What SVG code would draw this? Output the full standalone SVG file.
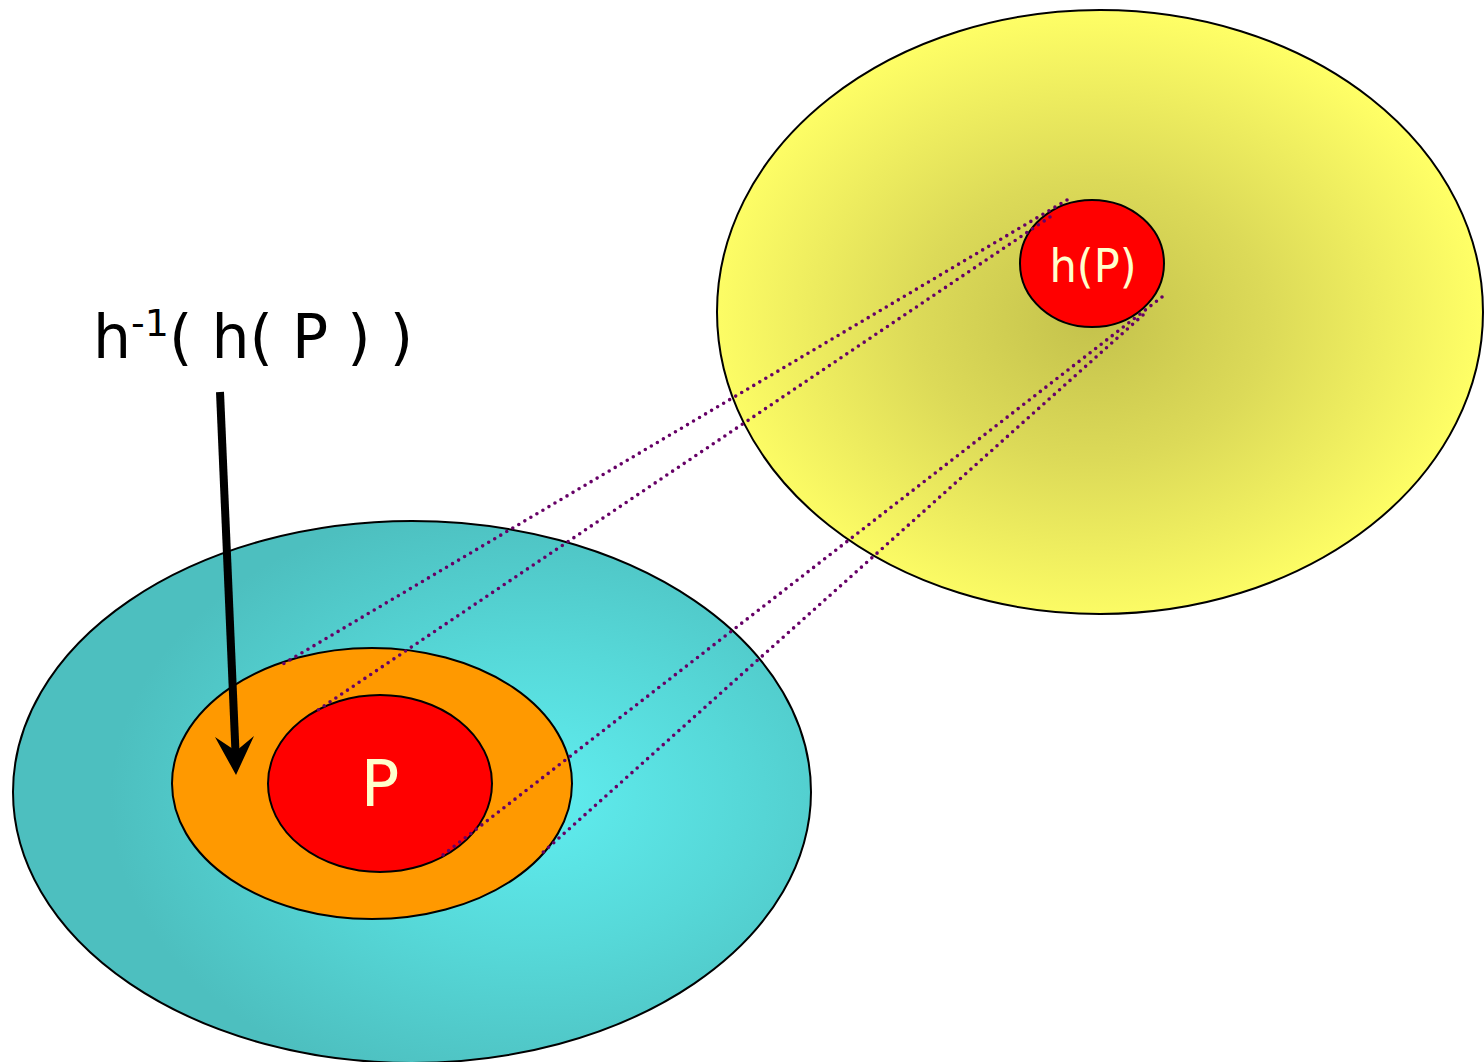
<svg xmlns="http://www.w3.org/2000/svg" width="1484" height="1062" viewBox="0 0 1484 1062">
<defs>
<radialGradient id="gy" gradientUnits="userSpaceOnUse" cx="1092" cy="320" r="390" gradientTransform="translate(1092 320) scale(1 0.8) translate(-1092 -320)">
<stop offset="0" stop-color="#c4c24c"/>
<stop offset="0.45" stop-color="#dcda58"/>
<stop offset="1" stop-color="#ffff66"/>
</radialGradient>
<radialGradient id="gc" gradientUnits="userSpaceOnUse" cx="530" cy="800" r="420" gradientTransform="translate(530 800) scale(1 0.72) translate(-530 -800)">
<stop offset="0" stop-color="#60eef0"/>
<stop offset="0.5" stop-color="#56d8d8"/>
<stop offset="1" stop-color="#4dbfbf"/>
</radialGradient>
<style>
.ol{stroke:#000;stroke-width:2}
.dot{fill:none;stroke:#660066;stroke-width:3.6;stroke-dasharray:0 7;stroke-linecap:round}
.lbl{font-family:"DejaVu Sans","Liberation Sans",sans-serif;fill:#ffffcc;text-anchor:middle}
</style>
</defs>
<g id="codomain"><ellipse cx="1100" cy="312" rx="383" ry="302" fill="url(#gy)" class="ol"/></g>
<g id="domain"><ellipse cx="412" cy="792" rx="399" ry="271" fill="url(#gc)" class="ol"/></g>
<g id="preimage"><ellipse cx="372" cy="783.5" rx="200" ry="135.5" fill="#ff9900" class="ol"/></g>
<g id="P"><ellipse cx="380" cy="783.5" rx="112" ry="88.5" fill="#ff0000" class="ol"/>
<text class="lbl" x="380" y="806" font-size="64">P</text></g>
<g id="hP"><ellipse cx="1092" cy="263.5" rx="72" ry="63.5" fill="#ff0000" class="ol"/>
<text class="lbl" x="1093" y="282" font-size="46" textLength="87" lengthAdjust="spacingAndGlyphs">h(P)</text></g>
<g id="connectors">
<line class="dot" x1="1067" y1="200" x2="283" y2="664"/>
<line class="dot" x1="1050" y1="217" x2="315" y2="712"/>
<line class="dot" x1="1162" y1="297" x2="443" y2="855"/>
<line class="dot" x1="1143" y1="315" x2="540" y2="855"/>
<line x1="220" y1="392" x2="235.5" y2="752" stroke="#000" stroke-width="8"/>
<polygon points="236,775 215,737 236,751 254,736" fill="#000"/>
</g>
<g id="label"><text x="93" y="358" font-family="DejaVu Sans,Liberation Sans,sans-serif" font-size="60" fill="#000">h<tspan font-size="38" dy="-22">-1</tspan><tspan dy="22">( h( P ) )</tspan></text></g>
</svg>
